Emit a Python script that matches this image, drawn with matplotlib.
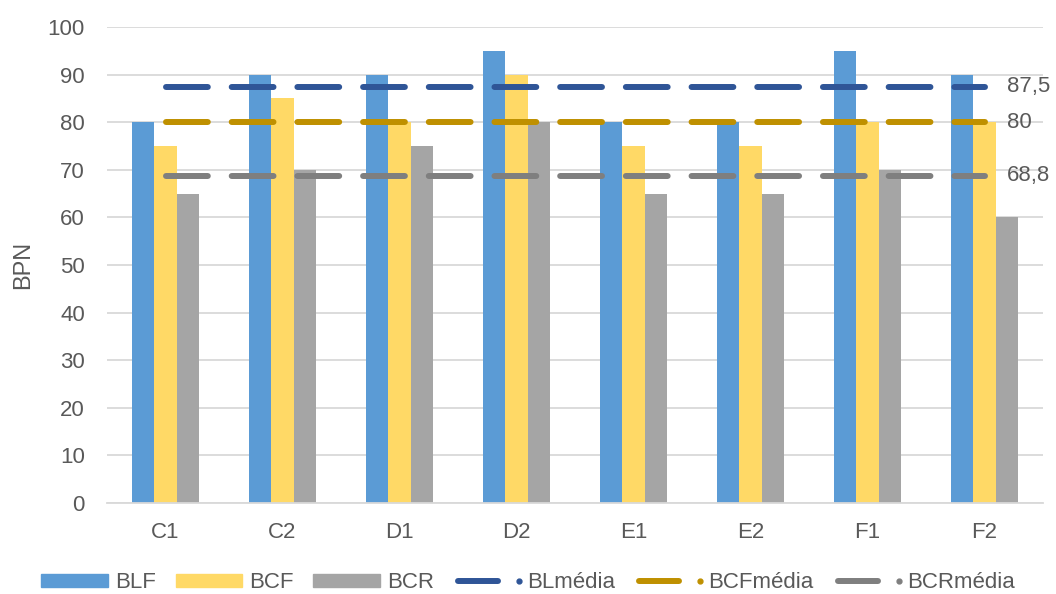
import numpy as np
import matplotlib
matplotlib.use("Agg")
import matplotlib.pyplot as plt
from matplotlib.lines import Line2D
from matplotlib.patches import Patch
from matplotlib.legend_handler import HandlerBase

plt.rcParams['font.family'] = ['Liberation Sans', 'DejaVu Sans']

samples = ['C1', 'C2', 'D1', 'D2', 'E1', 'E2', 'F1', 'F2']
blf = [80, 90, 90, 95, 80, 80, 95, 90]
bcf = [75, 85, 80, 90, 75, 75, 80, 80]
bcr = [65, 70, 75, 80, 65, 65, 70, 60]

bar_names = ['BLF', 'BCF', 'BCR']
bar_colors = ['#5B9BD5', '#FFD966', '#A5A5A5']
mean_names = ['BLmédia', 'BCFmédia', 'BCRmédia']
mean_colors = ['#2F5597', '#BF9000', '#7F7F7F']

txt = '#595959'
grid = '#D9D9D9'
fs = 16


class LineDotHandler(HandlerBase):
    # short line followed by a small dot, like the spreadsheet legend
    def create_artists(self, legend, orig, xd, yd, w, h, fontsize, trans):
        y = h / 2 - yd
        ln = Line2D([-xd + 3, -xd + w * 0.66], [y, y], color=orig.get_color(),
                    lw=4.3, solid_capstyle='round', transform=trans)
        dot = Line2D([-xd + w * 0.98], [y], marker='o', ms=3.5, ls='none',
                     color=orig.get_color(), transform=trans)
        return [ln, dot]


fig = plt.figure(figsize=(10.56, 5.94), dpi=100)
ax = fig.add_axes([107 / 1056, 1 - 503 / 594, 936 / 1056, 476 / 594])

x = np.arange(len(samples))
bw = 0.19
for i, (vals, c) in enumerate(zip([blf, bcf, bcr], bar_colors)):
    ax.bar(x + (i - 1) * bw, vals, bw, color=c, zorder=2)

mean_handles = []
for vals, c, name in zip([blf, bcf, bcr], mean_colors, mean_names):
    m = np.mean(vals)
    ln, = ax.plot(x, [m] * len(x), color=c, lw=4.3, zorder=3,
                  dash_capstyle='round', label=name)
    ln.set_dashes((7.0, 4.0))
    mean_handles.append(ln)
    lab = f"{m:.1f}".replace('.', ',')
    if lab.endswith(',0'):
        lab = lab[:-2]
    ax.annotate(lab, (x[-1], m), xytext=(16, 0), textcoords='offset points',
                va='center', ha='left', fontsize=fs, color=txt,
                annotation_clip=False)

ax.set_xlim(-0.5, len(samples) - 0.5)
ax.set_ylim(0, 100)
ax.set_yticks(range(0, 101, 10))
ax.set_xticks(x)
ax.set_xticklabels(samples)
ax.yaxis.grid(True, color=grid, lw=1.3, zorder=0)
ax.set_axisbelow(True)
for s in ['top', 'right', 'left']:
    ax.spines[s].set_visible(False)
ax.spines['bottom'].set_color(grid)
ax.spines['bottom'].set_linewidth(1.3)
ax.tick_params(length=0, labelsize=fs, colors=txt)
ax.tick_params(axis='x', pad=14)
ax.tick_params(axis='y', pad=16)
ax.set_ylabel('BPN', fontsize=17, color=txt, labelpad=10)

handles = [Patch(color=c) for c in bar_colors] + mean_handles
labels = bar_names + mean_names
fig.legend(handles, labels, loc='center', bbox_to_anchor=(0.5, 1 - 583 / 594),
           ncol=6, frameon=False, fontsize=fs, labelcolor=txt,
           handlelength=3.0, handleheight=0.55, handletextpad=0.3,
           columnspacing=0.9,
           handler_map={Line2D: LineDotHandler()})

fig.savefig('out.png', dpi=100)
